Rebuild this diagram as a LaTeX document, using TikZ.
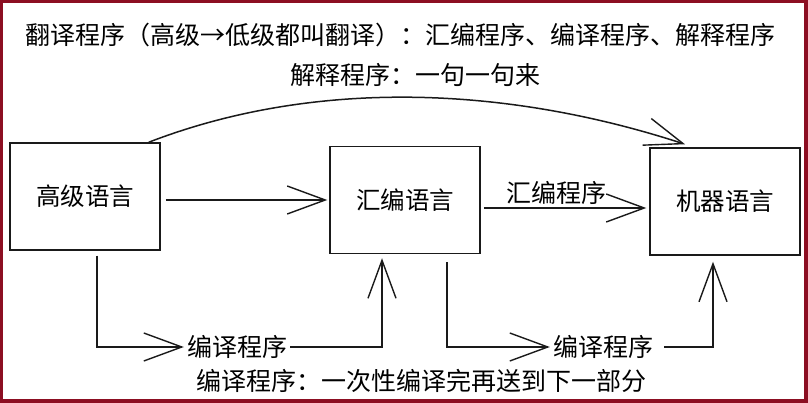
\documentclass[tikz,border=0pt]{standalone}
\usepackage{fontspec}
\setmainfont{Noto Sans CJK SC}
\usetikzlibrary{arrows.meta, positioning, calc}
\definecolor{framered}{HTML}{8C0E22}
\definecolor{inkblack}{HTML}{1A1A1A}

\begin{document}
\begin{tikzpicture}[x=1pt, y=-1pt,
    lang/.style={draw=inkblack, line width=1.5pt, minimum width=150pt, minimum height=107pt, font=\fontsize{24.5}{28}\selectfont},
    flow/.style={draw=inkblack, line width=1.5pt, -{Straight Barb[length=38pt, width=28pt, line width=1.4pt]}},
    lbl/.style={font=\fontsize{25}{29}\selectfont, inner sep=3pt}]
  % Rahmen
  \useasboundingbox (0,0) rectangle (808,403);
  \fill[framered] (0,0) rectangle (808,403);
  \fill[white] (3,3) rectangle (804,399);

  % Ueberschrift
  \node[lbl] (title) at (400,35) {翻译程序（高级→低级都叫翻译）：汇编程序、编译程序、解释程序};
  \node[lbl] (interp) at (415,75) {解释程序：一句一句来};

  % Sprachen
  \node[lang] (high) at (85,196.5) {高级语言};
  \node[lang] (asm) at (405,200) {汇编语言};
  \node[lang] (mach) at (725,201.5) {机器语言};

  % Uebersetzung oben
  \draw[flow] ([xshift=5pt]high.east |- asm.west) -- ([xshift=-2pt]asm.west);
  \draw[flow] ([xshift=3pt,yshift=-8pt]asm.east) -- ([xshift=-3pt,yshift=-8pt]asm.east -| mach.west)
    node[lbl, above, pos=0.45] (asmprog) {汇编程序};
  \draw[flow] ([xshift=-12pt]high.north east) .. controls (310,80) and (500,84) .. ([xshift=-40pt,yshift=3pt]mach.north);

  % Compiler unten
  \node[lbl] (comp1) at (237,347) {编译程序};
  \node[lbl] (comp2) at (603,347) {编译程序};
  \node[lbl] (note) at (421,381) {编译程序：一次性编译完再送到下一部分};
  \draw[flow] ([xshift=12pt,yshift=-5pt]high.south) |- (comp1.west);
  \draw[flow] (comp1.east) -| ([xshift=-23pt,yshift=-4pt]asm.south);
  \draw[flow] ([xshift=42pt,yshift=-8pt]asm.south) |- (comp2.west);
  \draw[flow] ([xshift=8pt]comp2.east) -| ([xshift=-12pt,yshift=-6pt]mach.south);
\end{tikzpicture}
\end{document}
